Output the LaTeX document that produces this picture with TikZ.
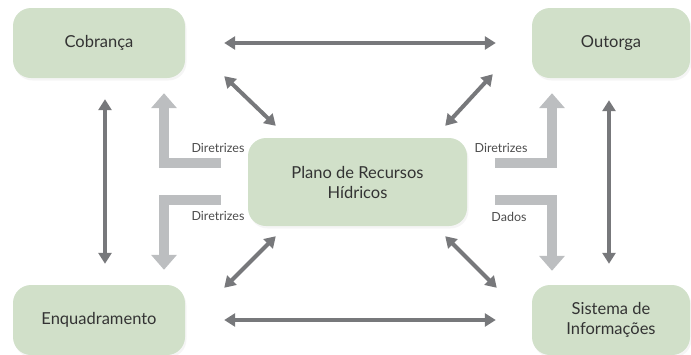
\documentclass[tikz,border=0pt]{standalone}
\usepackage{fontspec}
\setmainfont{Lato}
\usetikzlibrary{arrows.meta,shadows}
\definecolor{boxgreen}{HTML}{D1E0C9}
\definecolor{darkarr}{HTML}{77787B}
\definecolor{litearr}{HTML}{BCBEC0}
\definecolor{txt}{HTML}{333333}
\begin{document}
\begin{tikzpicture}[x=1pt,y=-1pt,
  box/.style={fill=boxgreen, rounded corners=18pt, text=txt, font=\fontsize{16.5}{20}\selectfont,
    align=center, inner sep=0pt, drop shadow={opacity=0.08, shadow xshift=1.5pt, shadow yshift=-2.5pt}},
  dark/.style={draw=darkarr, line width=4pt, {Triangle[width=13pt,length=11pt]}-{Triangle[width=13pt,length=11pt]}},
  lite/.style={draw=litearr, line width=10pt, -{Triangle[width=25pt,length=15pt]}},
  lbl/.style={text=black!70, font=\fontsize{12.5}{14}\selectfont}]
\useasboundingbox (0,0) rectangle (691,354);
% boxes
\node[box, minimum width=172, minimum height=70] (cob) at (99,43) {Cobrança};
\node[box, minimum width=158, minimum height=70] (out) at (611,43) {Outorga};
\node[box, minimum width=172, minimum height=70] (enq) at (99,320) {Enquadramento};
\node[box, minimum width=158, minimum height=70] (sis) at (611,320) {Sistema de\\Informações};
\node[box, minimum width=219, minimum height=88] (pla) at (357.5,182) {Plano de Recursos\\Hídricos};
% dark arrows
\draw[dark, shorten <=39pt, shorten >=36pt] (cob.east) -- (out.west);
\draw[dark, shorten <=39pt, shorten >=36pt] (enq.east) -- (sis.west);
\draw[dark] ([shift={(6,21)}]cob.south) -- ([shift={(6,-21)}]enq.north);
\draw[dark] ([shift={(-2,22)}]out.south) -- ([shift={(-2,-21)}]sis.north);
\draw[dark] ([shift={(39,-2)}]cob.south east) -- ([shift={(28,-12)}]pla.north west);
\draw[dark] ([shift={(-39,-4)}]out.south west) -- ([shift={(-22,-12)}]pla.north east);
\draw[dark] ([shift={(28,10)}]pla.south west) -- ([shift={(39,3)}]enq.north east);
\draw[dark] ([shift={(-22,10)}]pla.south east) -- ([shift={(-35,3)}]sis.north west);
% light L-arrows
\draw[lite] ([shift={(-27,-19)}]pla.west) -| ([shift={(65,15)}]cob.south);
\draw[lite] ([shift={(-27,18)}]pla.west) -| ([shift={(65,-15)}]enq.north);
\draw[lite] ([shift={(28,-19)}]pla.east) -| ([shift={(-59,15)}]out.south);
\draw[lite] ([shift={(28,18)}]pla.east) -| ([shift={(-59,-14)}]sis.north);
% labels
\node[lbl] (d1) at (218,148) {Diretrizes};
\node[lbl] (d2) at (218,216) {Diretrizes};
\node[lbl] (d3) at (501,148) {Diretrizes};
\node[lbl] (d4) at (509,217) {Dados};
\end{tikzpicture}
\end{document}
